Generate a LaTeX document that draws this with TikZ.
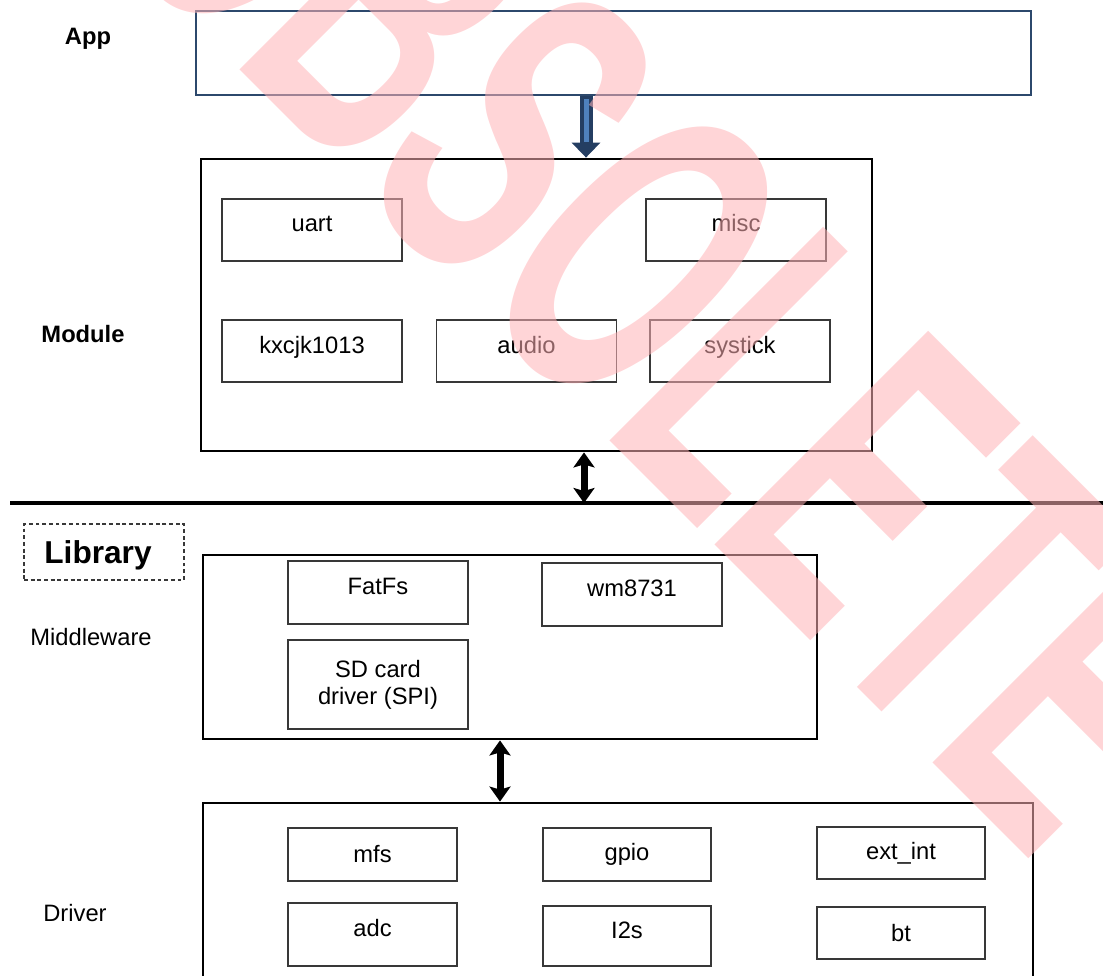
\documentclass[tikz,border=0pt]{standalone}
\usepackage{graphicx}
\usepackage{fontspec}
\setmainfont{Liberation Sans}
\usepackage{tikz}
\usetikzlibrary{arrows.meta}

\definecolor{appblue}{RGB}{44,72,108}
\definecolor{arrowdark}{RGB}{36,62,98}
\definecolor{arrowlight}{RGB}{79,129,189}
\definecolor{boxgray}{RGB}{56,56,56}
\definecolor{wmred}{RGB}{255,178,182}

\begin{document}
\begin{tikzpicture}[
    every node/.style={font=\fontsize{13.5}{16.5}\selectfont},
    tag/.style={font=\fontsize{13.5}{16.5}\selectfont\bfseries},
    layer/.style={draw, line width=1.6pt, inner sep=0pt},
    unit/.style={draw=boxgray, line width=0.85pt, inner sep=0pt, text height=0.34cm, text depth=0.26cm},
    unitc/.style={draw=boxgray, line width=0.85pt, inner sep=0pt},
    link/.style={line width=0.14cm, {Stealth[length=0.3cm,width=0.42cm,inset=0.06cm]}-{Stealth[length=0.3cm,width=0.42cm,inset=0.06cm]}},
    sep/.style={line width=2pt}
  ]
	%Frame
      \useasboundingbox (0,0) rectangle (22.06,-19.52);
      \clip (0,0) rectangle (22.06,-19.52);

	%App
      \node[tag] (applab) at (1.76,-0.78) {App};
      \node[draw=appblue, line width=1.2pt, minimum width=16.7cm, minimum height=1.68cm] (app) at (12.27,-1.06) {};

	%Module
      \node[tag] (modlab) at (1.66,-6.68) {Module};
      \node[layer, minimum width=13.42cm, minimum height=5.84cm] (module) at (10.73,-6.1) {};
      \node[unit, minimum width=3.6cm, minimum height=1.24cm] (uart) at (6.24,-4.6) {uart};
      \node[unit, minimum width=3.6cm, minimum height=1.24cm] (misc) at (14.72,-4.6) {misc};
      \node[unit, minimum width=3.6cm, minimum height=1.24cm] (kxcjk) at (6.24,-7.02) {kxcjk1013};
      \node[unit, minimum width=3.6cm, minimum height=1.24cm] (audio) at (10.53,-7.02) {audio};
      \node[unit, minimum width=3.6cm, minimum height=1.24cm] (systick) at (14.8,-7.02) {systick};

	%App to Module
      \coordinate (appx) at (11.72,0);
      \draw[draw=arrowdark, line width=0.26cm, -{Triangle[length=0.3cm,width=0.56cm]}] (app.south -| appx) -- (module.north -| appx);
      \draw[draw=arrowlight, line width=0.1cm, shorten <=0.06cm, shorten >=0.32cm] (app.south -| appx) -- (module.north -| appx);

	%Separator
      \coordinate (sepl) at (0.2,-10.06);
      \coordinate (sepr) at (22.06,-10.06);
      \draw[sep] (sepl) -- (sepr);
      \coordinate (modx) at (11.68,0);
      \draw[link] (module.south -| modx) -- (sepl -| modx);

	%Library
      \node[draw=boxgray, line width=0.6pt, dash pattern=on 2.2pt off 1.6pt, minimum width=3.2cm, minimum height=1.12cm,
            text depth=0pt, font=\fontsize{18}{21}\selectfont\bfseries] (lib) at (2.08,-11.04) {Library\kern0.24cm};

	%Middleware
      \node (midlab) at (1.82,-12.74) {Middleware};
      \node[layer, minimum width=12.28cm, minimum height=3.68cm] (middleware) at (10.2,-12.94) {};
      \node[unit, minimum width=3.6cm, minimum height=1.26cm] (fatfs) at (7.56,-11.85) {FatFs};
      \node[unit, minimum width=3.6cm, minimum height=1.26cm] (wm) at (12.64,-11.89) {wm8731};
      \node[unitc, minimum width=3.6cm, minimum height=1.78cm, align=center,
            font=\fontsize{13.5}{15.5}\selectfont] (sdcard) at (7.56,-13.69) {SD card\\driver (SPI)};

	%Driver
      \node (drvlab) at (1.5,-18.26) {Driver};
      \node[layer, minimum width=16.6cm, minimum height=3.94cm] (driver) at (12.36,-18.03) {};
      \node[unitc, minimum width=3.38cm, minimum height=1.06cm] (mfs) at (7.45,-17.09) {mfs};
      \node[unitc, minimum width=3.36cm, minimum height=1.06cm] (gpio) at (12.54,-17.09) {gpio};
      \node[unitc, minimum width=3.36cm, minimum height=1.04cm] (extint) at (18.02,-17.06) {ext\_int};
      \node[unit, minimum width=3.38cm, minimum height=1.26cm] (adc) at (7.45,-18.69) {adc};
      \node[unit, minimum width=3.36cm, minimum height=1.2cm] (i2s) at (12.54,-18.72) {I2s};
      \node[unitc, minimum width=3.36cm, minimum height=1.04cm] (bt) at (18.02,-18.66) {bt};

	%Middleware to Driver
      \coordinate (midx) at (10.0,0);
      \draw[link] (middleware.south -| midx) -- (driver.north -| midx);

	%Watermark
      \node[rotate=-45, text=wmred, text opacity=0.55, inner sep=0pt,
            font=\fontsize{250}{250}\selectfont\bfseries] (stamp) at (13.45,-5.78) {\scalebox{0.55}[1]{OBSOLETE}};
\end{tikzpicture}
\end{document}
